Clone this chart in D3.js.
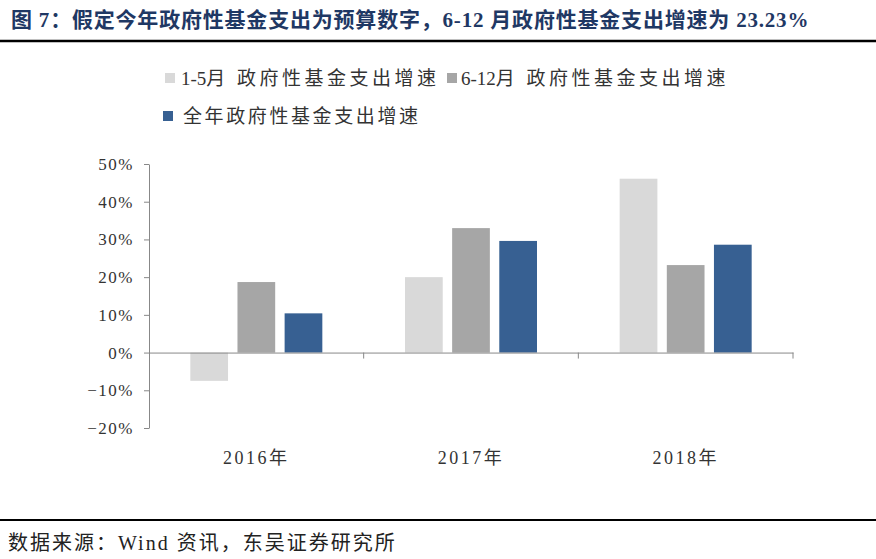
<!DOCTYPE html>
<html><head><meta charset="utf-8">
<script src="https://cdn.jsdelivr.net/npm/d3@7/dist/d3.min.js"></script>
<style>body{margin:0;background:#fff;}svg{display:block;}</style>
</head><body>
<svg id="c" width="876" height="559"></svg>
<script>
const categories = ["2016年", "2017年", "2018年"];
const seriesNames = ["1-5月 政府性基金支出增速", "6-12月 政府性基金支出增速", "全年政府性基金支出增速"];
const s1 = [-7.5, 20.0, 46.1];
const s2 = [18.7, 33.0, 23.2];
const s3 = [10.4, 29.6, 28.6];
const yTicks = [-20, -10, 0, 10, 20, 30, 40, 50];
const colors = ["#d9d9d9", "#a6a6a6", "#376092"];

const svg = d3.select("#c");
const serif = "'Liberation Serif','Times New Roman','Noto Sans CJK SC',serif";

// title
svg.append("text").attr("x", 11).attr("y", 27)
  .attr("font-family", serif).attr("font-weight", "bold").attr("font-size", 21)
  .attr("letter-spacing", 0.8)
  .attr("fill", "#1f3864")
  .text("图 7：假定今年政府性基金支出为预算数字，6-12 月政府性基金支出增速为 23.23%");
svg.append("line").attr("x1", 0).attr("x2", 876).attr("y1", 41).attr("y2", 41)
  .attr("stroke", "#000").attr("stroke-width", 2.5);

// scales
const y = d3.scaleLinear().domain([-20, 50]).range([428, 164]);
const x0 = d3.scaleBand().domain(categories).range([149, 793]).paddingInner(0).paddingOuter(0);
const gw = 132;
const x1 = d3.scaleBand().domain(d3.range(3)).range([x0.bandwidth()/2 - gw/2, x0.bandwidth()/2 + gw/2]).paddingInner(0.2).paddingOuter(0);

const data = categories.map((c, i) => ({cat: c, vals: [s1[i], s2[i], s3[i]]}));

const g = svg.append("g");
g.selectAll("g.grp").data(data).join("g").attr("class", "grp")
  .attr("transform", d => `translate(${x0(d.cat)},0)`)
  .selectAll("rect").data(d => d.vals.map((v, k) => ({v, k}))).join("rect")
  .attr("x", d => x1(d.k)).attr("width", x1.bandwidth())
  .attr("y", d => y(Math.max(0, d.v))).attr("height", d => Math.abs(y(d.v) - y(0)))
  .attr("fill", d => colors[d.k]);

// y axis
const yAxis = d3.axisLeft(y).tickValues(yTicks).tickSize(5).tickSizeOuter(0)
  .tickFormat(d => (d < 0 ? "\u2212" + Math.abs(d) : d) + "%");
const ya = svg.append("g").attr("transform", "translate(149,0)").call(yAxis);
ya.select(".domain").attr("stroke", "#888");
ya.selectAll(".tick line").attr("stroke", "#888");
ya.selectAll(".tick text").attr("font-family", serif).attr("font-size", 17).attr("fill", "#333")
  .attr("x", -15).attr("letter-spacing", 1.5);

// x axis at zero
const xAxis = d3.axisBottom(x0).tickSize(0).tickSizeOuter(0).tickFormat("");
const xa = svg.append("g").attr("transform", `translate(0,${y(0)})`).call(xAxis);
xa.select(".domain").attr("stroke", "#888");
const bounds = categories.map(c => x0(c)).concat([x0.range()[1]]);
xa.selectAll("line.bd").data(bounds.slice(1)).join("line").attr("class", "bd")
  .attr("x1", d => d).attr("x2", d => d).attr("y1", 0).attr("y2", 6).attr("stroke", "#888");

// category labels
svg.append("g").selectAll("text").data(categories).join("text")
  .attr("x", d => x0(d) + x0.bandwidth()/2).attr("y", 464)
  .attr("text-anchor", "middle").attr("font-family", serif).attr("font-size", 18)
  .attr("fill", "#333").attr("letter-spacing", 2.5).text(d => d);

// legend
const legendPos = [{x: 165, y: 78, tx: 181}, {x: 447, y: 78, tx: 461}, {x: 163, y: 116, tx: 183}];
const lg = svg.append("g");
seriesNames.forEach((n, i) => {
  const p = legendPos[i];
  lg.append("rect").attr("x", p.x).attr("y", p.y - 5).attr("width", 10).attr("height", 10).attr("fill", colors[i]);
  const t = lg.append("text").attr("x", p.tx).attr("y", p.y + 7).attr("font-family", serif)
    .attr("font-size", 19).attr("fill", "#333");
  const m = n.match(/^([0-9\-]+)(.*)$/);
  if (m) {
    t.append("tspan").attr("letter-spacing", 0).text(m[1]);
    t.append("tspan").attr("letter-spacing", 3.5).text(m[2]);
  } else {
    t.append("tspan").attr("letter-spacing", 2.6).text(n);
  }
});

// source
svg.append("line").attr("x1", 0).attr("x2", 876).attr("y1", 520).attr("y2", 520)
  .attr("stroke", "#000").attr("stroke-width", 2);
svg.append("text").attr("x", 8).attr("y", 550).attr("font-family", serif).attr("font-size", 20)
  .attr("letter-spacing", 2).attr("fill", "#222").text("数据来源：Wind 资讯，东吴证券研究所");
</script>
</body></html>
